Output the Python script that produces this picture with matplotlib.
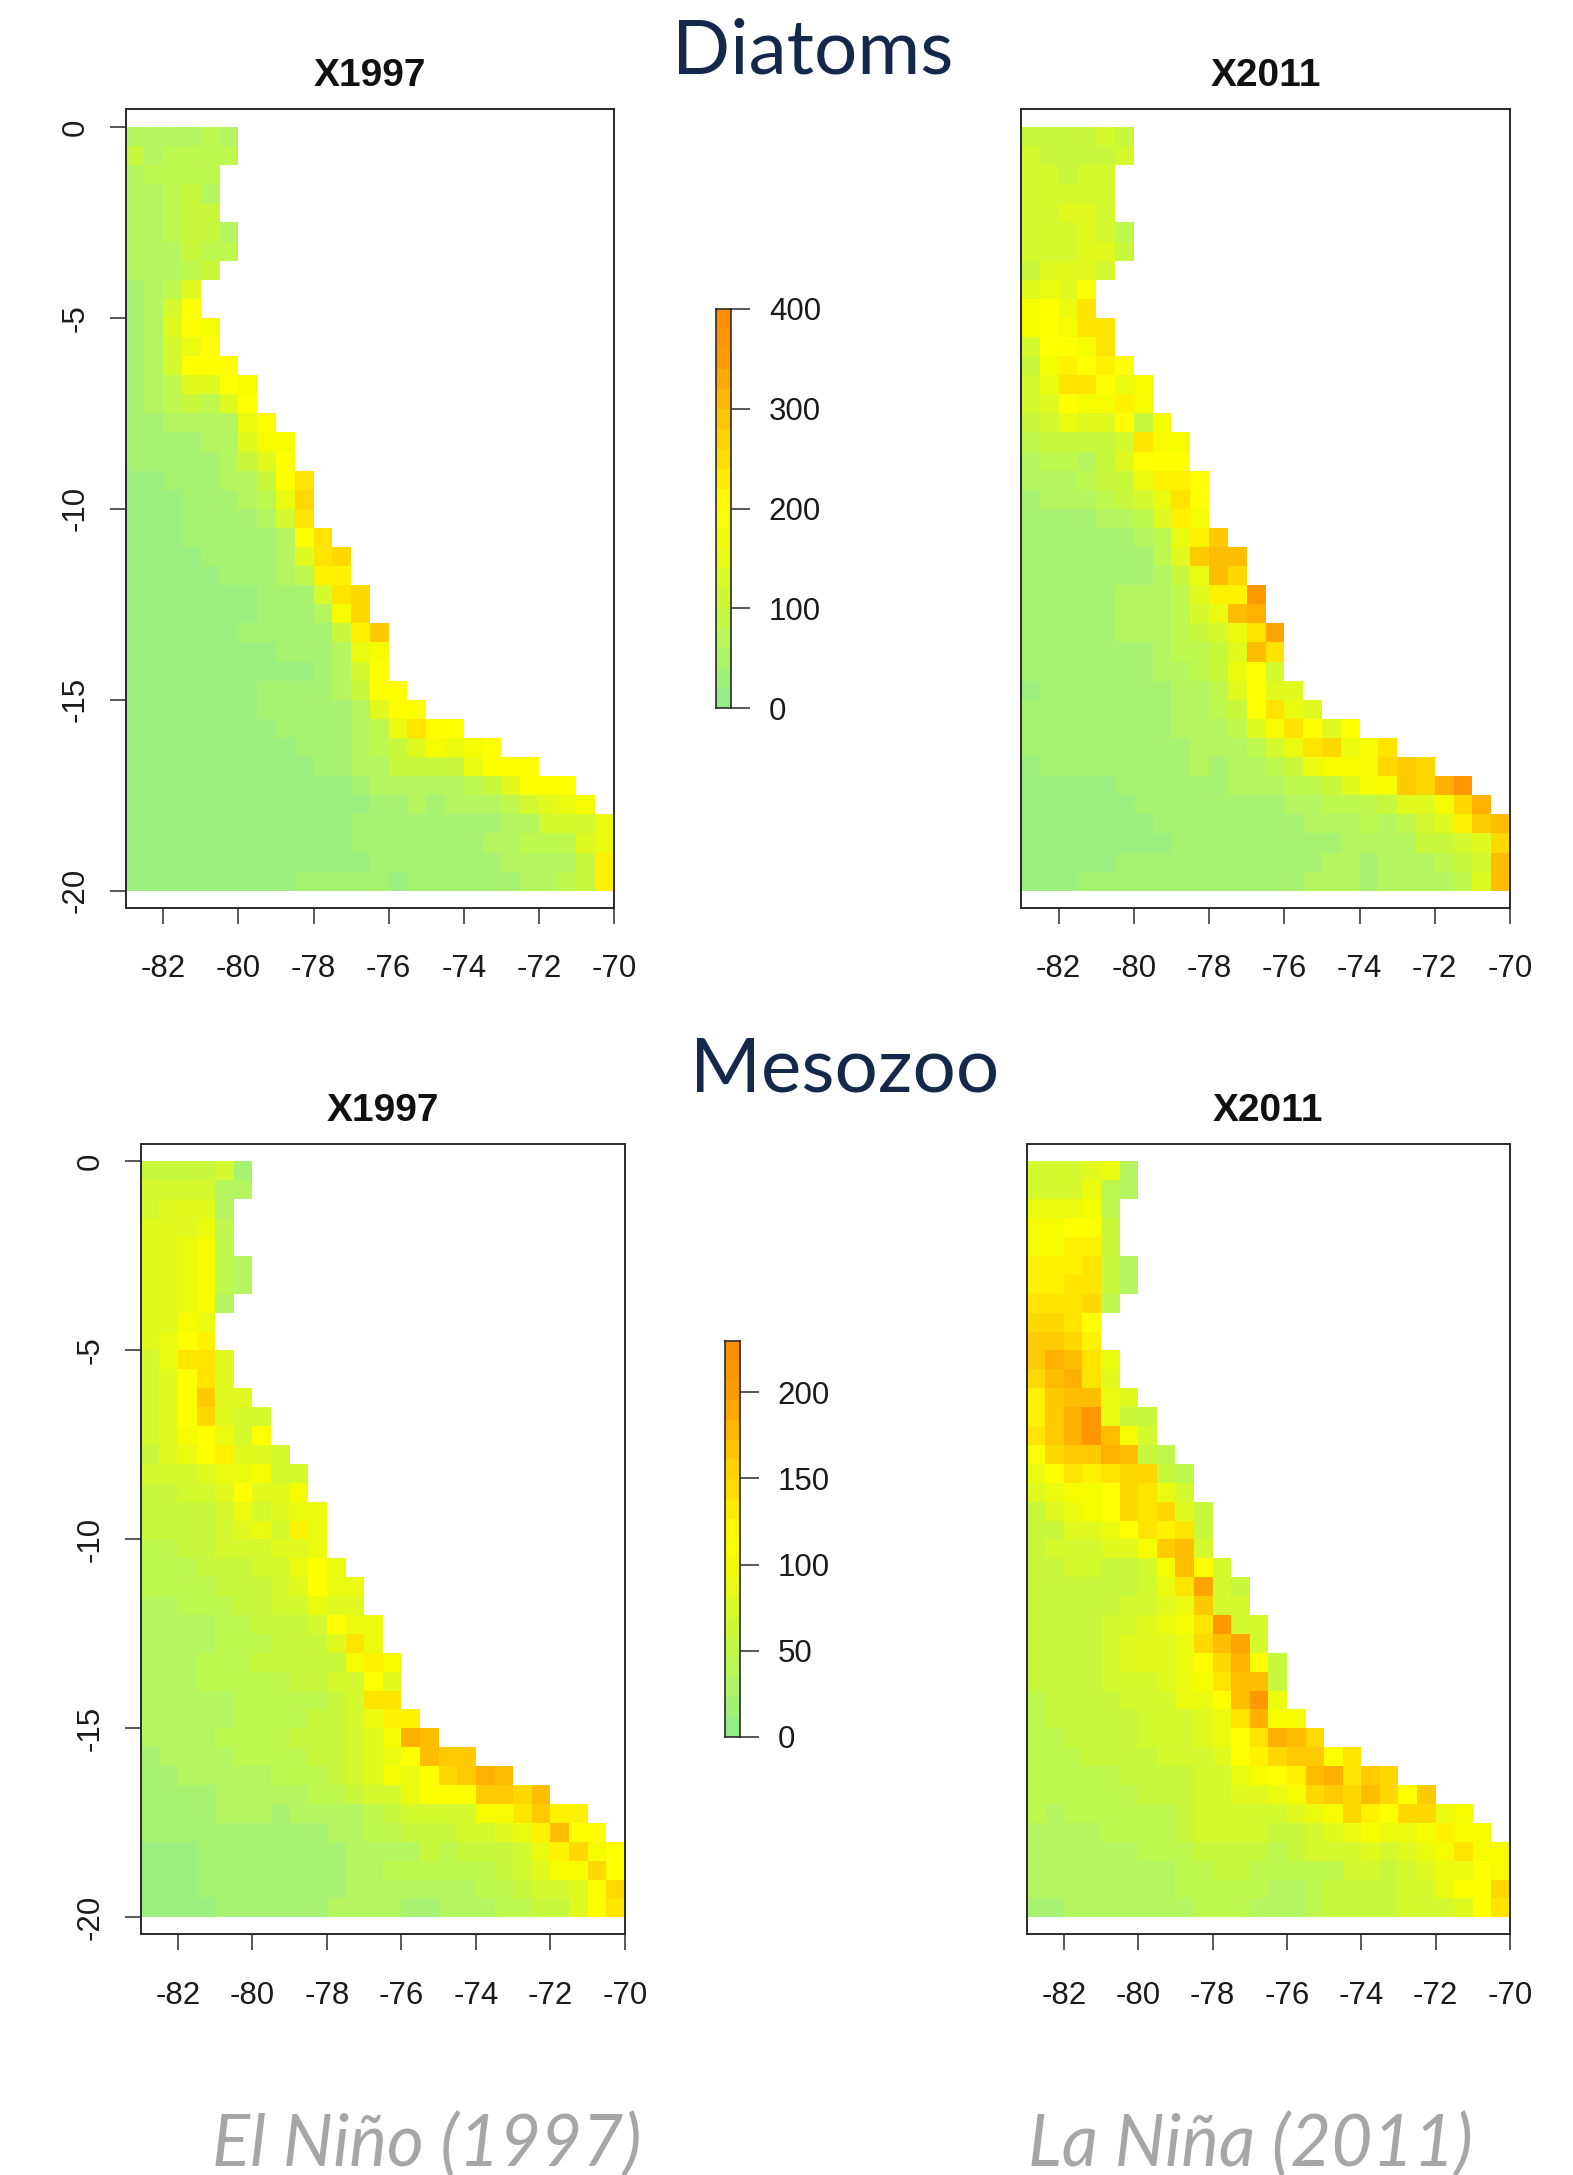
import numpy as np
import matplotlib
matplotlib.use("Agg")
import matplotlib.pyplot as plt
from matplotlib.colors import LinearSegmentedColormap

plt.rcParams['font.family'] = ['Liberation Sans', 'DejaVu Sans']

# cell values read as steps of the colour bar, north to south, west to east
# one step = 20 units for diatoms, 11.5 units for mesozoo
diatoms_1997 = [
 [3,3,3,3,4,3],[5,3,4,4,4,4],[3,4,4,4,4],[3,3,4,5,3],[3,3,4,5,5],[3,3,4,5,5,3],[3,3,3,5,4,4],[3,3,3,4,5],
 [2,3,4,7],[2,3,6,10],[2,3,7,10,9],[2,3,6,8,10],[2,3,6,10,10,10],[2,3,4,7,7,10,9],[2,3,4,5,4,7,10],
 [2,2,3,3,3,3,8,10],[2,2,2,2,3,3,7,9,9],[2,2,2,2,2,3,5,7,10],[1,1,2,2,2,3,3,5,10,12],[1,1,1,2,2,2,3,4,8,13],
 [1,1,1,2,2,2,2,3,6,12],[1,1,1,2,2,2,2,2,3,10,12],[1,1,1,1,2,2,2,2,3,7,12,13],[1,1,1,1,1,2,2,2,3,4,11,11],
 [1,1,1,1,1,1,1,2,2,2,6,12,13],[1,1,1,1,1,1,1,2,2,2,3,9,13],[1,1,1,1,1,1,2,2,2,2,2,5,11,14],
 [1,1,1,1,1,1,1,1,2,2,2,3,8,9],[1,1,1,1,1,1,1,1,1,1,2,3,6,10],[1,1,1,1,1,1,1,2,2,2,2,3,5,10,10],
 [1,1,1,1,1,1,1,2,2,2,2,2,3,7,10,10],[1,1,1,1,1,1,1,1,2,2,2,2,3,4,8,12,10,10],
 [1,1,1,1,1,1,1,1,1,2,2,2,3,4,5,7,9,8,9,10],[1,1,1,1,1,1,1,1,1,1,2,2,3,3,5,5,5,5,8,10,10,10],
 [1,1,1,1,1,1,1,1,1,1,1,1,2,3,3,3,3,3,4,5,7,10,10,10],[1,1,1,1,1,1,1,1,1,1,1,1,1,2,2,3,2,3,3,3,4,6,7,8,9],
 [1,1,1,1,1,1,1,1,1,1,1,1,2,2,2,2,2,2,2,2,3,3,6,6,6,8],[1,1,1,1,1,1,1,1,1,1,1,1,2,2,2,2,2,2,2,3,3,4,4,4,7,8],
 [1,1,1,1,1,1,1,1,1,1,1,1,1,2,2,2,2,2,2,2,3,3,3,3,5,11],[1,1,1,1,1,1,1,1,1,2,2,2,2,2,1,2,2,2,2,2,2,3,3,4,5,11],
]
diatoms_2011 = [
 [5,5,5,5,6,5],[6,5,5,5,5,6],[6,6,5,6,6],[6,6,6,6,6],[6,6,7,7,6],[6,6,6,7,6,4],[6,6,6,7,7,5],[5,7,7,7,6],
 [7,8,7,10],[9,10,8,12],[9,10,9,12,12],[6,10,10,9,12],[5,9,11,10,11,10],[6,8,12,12,10,8,9],[6,7,10,9,9,11,9],
 [5,6,8,7,7,10,5,9],[4,5,5,5,5,6,12,9,9],[3,4,4,3,5,7,10,10,10],[3,3,3,4,5,5,8,11,11,10],[2,3,3,3,4,5,6,8,12,10],
 [2,2,2,2,3,3,4,7,11,9],[2,2,2,2,2,2,3,4,8,11,14],[2,2,2,2,2,2,2,4,7,14,15,15],[2,2,2,2,2,2,2,3,5,8,15,13],
 [2,2,2,2,2,3,3,3,4,7,11,11,18],[2,2,2,2,2,3,3,3,4,6,8,15,16],[2,2,2,2,2,3,3,3,4,5,6,8,12,17],
 [2,2,2,2,2,2,2,3,4,4,5,7,15,12],[2,2,2,2,2,2,2,3,3,4,5,8,10,6],[1,2,2,2,2,2,2,2,3,3,4,7,10,7,7],
 [2,2,2,2,2,2,2,2,3,3,4,5,10,12,8,7],[2,2,2,2,2,2,2,2,3,3,3,4,7,9,12,10,7,10],
 [2,2,2,2,2,2,2,2,2,3,3,3,4,6,8,12,13,8,9,12],[1,2,2,2,2,2,2,2,2,3,2,3,3,4,5,8,9,9,9,13,14,13],
 [1,1,1,1,1,2,2,2,2,2,2,3,3,3,4,4,5,7,9,9,14,13,16,18],[1,1,1,1,1,1,2,2,2,2,2,2,2,2,3,3,4,4,4,5,7,7,9,13,16],
 [1,1,1,1,1,1,1,2,2,2,2,2,2,2,2,3,3,3,4,3,4,6,7,11,14,15],[1,1,1,1,1,1,1,1,2,2,2,2,2,2,2,2,2,3,3,3,3,5,5,6,7,13],
 [1,1,1,1,1,2,2,2,2,2,2,2,2,2,2,2,3,3,2,3,3,3,4,5,6,15],[1,1,1,2,2,2,2,2,2,2,2,2,2,2,2,3,3,3,2,3,3,3,3,4,7,15],
]
mesozoo_1997 = [
 [5,5,5,5,6,2],[6,6,6,6,3,3],[6,7,7,7,3],[7,7,7,8,4],[7,7,8,9,4],[7,7,8,9,4,3],[7,7,8,9,4,3],[7,7,8,9,3],
 [7,7,9,8],[7,8,10,11],[6,8,12,12,7],[6,7,10,12,7],[6,7,10,14,7,7],[6,7,10,13,7,6,6],[6,7,9,10,8,6,10],
 [5,7,8,10,11,7,7,6],[6,6,6,7,8,8,9,6,6],[5,5,6,6,7,10,7,7,9],[5,5,5,5,6,8,6,7,8,8],[5,5,5,5,6,7,8,6,11,8],
 [4,4,5,5,6,6,6,7,7,8],[4,4,4,5,5,5,6,6,8,10,8],[4,4,4,4,5,5,5,6,7,10,8,8],[3,3,4,4,4,5,5,6,6,8,7,7],
 [3,3,3,3,4,4,5,5,5,6,10,8,8],[3,3,3,3,4,4,4,5,5,5,7,12,8],[3,3,3,4,4,4,5,5,5,5,5,9,11,9],
 [3,3,3,4,4,4,4,4,5,5,6,6,10,7],[3,3,3,3,3,4,4,4,4,4,5,6,12,12],[3,3,3,3,3,4,4,4,4,5,5,6,8,11,11],
 [3,3,3,3,4,4,4,4,5,5,5,6,7,9,16,15],[2,3,3,3,3,4,4,4,4,5,5,6,7,8,10,15,14,14],
 [2,2,3,3,3,3,3,4,4,4,5,6,7,9,8,10,13,14,16,15],[2,2,2,2,3,3,3,3,3,4,4,5,6,6,8,10,10,10,14,14,13,15],
 [2,2,2,2,3,3,3,2,3,3,3,3,4,5,6,6,6,6,9,9,12,14,11,11],[2,2,2,2,2,2,2,2,2,2,3,3,4,4,5,5,5,6,6,7,8,11,15,10,10],
 [1,1,1,2,2,2,2,2,2,2,2,3,3,3,3,5,4,5,5,5,6,8,11,13,9,10],[1,1,1,2,2,2,2,2,2,2,2,3,3,4,4,4,4,4,4,5,6,7,9,9,13,10],
 [1,1,1,2,2,2,2,2,2,2,2,3,3,3,3,3,3,3,4,4,5,6,6,7,10,13],[1,1,1,1,2,2,2,2,2,2,3,3,3,3,2,2,3,3,3,4,4,5,5,7,10,12],
]
mesozoo_2011 = [
 [6,6,6,7,8,3],[6,6,6,8,4,3],[8,8,8,9,4],[9,9,10,10,5],[9,9,11,11,5],[11,11,11,12,5,3],[11,11,12,12,5,3],[12,12,12,13,4],
 [13,13,12,10],[14,14,13,11],[14,16,15,12,8],[13,15,16,12,7],[11,14,15,15,8,7],[11,14,16,18,8,5,5],[12,14,16,18,15,9,6],
 [10,13,14,14,16,15,5,4],[8,10,12,11,12,13,13,5,4],[7,8,9,9,10,13,12,8,6],[5,7,8,9,10,13,12,13,7,5],[5,5,7,7,8,10,12,11,12,5],
 [5,6,6,6,7,7,9,14,15,6],[5,5,6,6,5,5,6,9,15,10,6],[5,5,5,5,5,5,6,8,12,17,6,5],[5,5,5,5,5,6,6,7,8,14,6,6],
 [5,5,5,5,6,6,7,8,9,12,18,6,6],[5,5,5,5,6,7,7,7,8,13,15,17,6],[5,5,5,5,6,7,7,7,8,10,13,16,10,5],
 [5,5,5,5,6,6,6,7,8,9,12,15,15,5],[4,5,5,5,5,6,6,6,8,8,10,15,18,8],[4,5,5,5,5,5,6,6,6,7,8,12,16,9,9],
 [4,4,5,5,5,5,6,6,6,7,8,10,12,16,15,13],[4,4,4,5,5,5,5,6,6,6,7,10,11,13,14,14,10,12],
 [4,4,4,4,4,5,5,5,5,6,6,8,9,10,11,15,16,12,14,13],[4,4,4,4,4,4,5,5,5,6,6,7,7,8,9,13,14,13,15,13,10,14],
 [4,3,4,4,4,4,4,4,5,6,6,6,6,6,7,8,9,13,11,10,13,13,8,9],[3,3,3,3,4,4,4,4,5,6,6,6,6,5,5,6,7,8,9,8,8,9,11,9,9],
 [3,3,3,3,3,3,4,4,4,5,5,5,5,4,5,6,6,6,7,6,7,8,9,12,9,9],[3,3,3,3,3,3,3,3,4,4,5,5,4,4,4,4,4,6,6,5,6,7,8,8,10,9],
 [3,3,3,3,3,3,3,3,4,4,4,4,4,3,3,4,5,5,5,5,6,6,8,10,10,13],[2,2,3,3,3,3,3,3,3,4,4,4,3,3,3,4,5,5,5,5,6,6,6,7,10,12],
]
diatom_step = 20.0
meso_step = 11.5
diatom_max = 400
meso_max = 230
diatom_ticks = [0, 100, 200, 300, 400]
meso_ticks = [0, 50, 100, 150, 200]
lon_ticks = [-82, -80, -78, -76, -74, -72, -70]
lat_ticks = [0, -5, -10, -15, -20]

W, H = 1573, 2175
fig = plt.figure(figsize=(W/100, H/100), dpi=100)

cmap = LinearSegmentedColormap.from_list('bar', [
    (0.0, '#8CEC8C'), (0.05, '#9DF07E'), (0.10, '#A8F270'), (0.15, '#B4F560'), (0.25, '#C8F83C'),
    (0.35, '#E0FA20'), (0.45, '#F5FC00'), (0.50, '#FFFF00'), (0.60, '#FFE400'), (0.70, '#FFCC00'),
    (0.80, '#FFB000'), (0.90, '#FF9800'), (1.0, '#FF8C00')])

DARK = '#2a2a2a'

def px_axes(left, top, right, bottom):
    return fig.add_axes([left/W, 1-bottom/H, (right-left)/W, (bottom-top)/H])

def panel(box, rows, step, vmax, title, ylabels=True):
    ax = px_axes(*box)
    grid = np.full((40, 26), np.nan)
    for i, r in enumerate(rows):
        grid[i, :len(r)] = np.array(r)*step
    lon = np.arange(-83, -69.9, 0.5)
    lat = np.arange(0, -20.1, -0.5)
    ax.pcolormesh(lon, lat, grid, cmap=cmap, vmin=0, vmax=vmax, linewidth=0, antialiased=False)
    ax.set_xlim(-83, -70)
    ax.set_ylim(-20.44, 0.47)
    ax.set_xticks(lon_ticks)
    ax.set_xticklabels([str(v) for v in lon_ticks], fontsize=22.5, color='#1a1a1a')
    ax.tick_params(axis='x', length=11.5, width=1.1, color=DARK, pad=22)
    if ylabels:
        ax.set_yticks(lat_ticks)
        ax.set_yticklabels([str(v) for v in lat_ticks], fontsize=22.5, color='#1a1a1a', rotation=90, va='center')
        ax.tick_params(axis='y', length=11.5, width=1.1, color=DARK, pad=14)
    else:
        ax.set_yticks([])
    for s in ax.spines.values():
        s.set_linewidth(1.4)
        s.set_color(DARK)
    ax.set_title(title, fontsize=28, fontweight='bold', color='#111111', pad=16.5)
    return ax

def bar(box, vmax, ticks):
    ax = px_axes(*box)
    edges = np.linspace(0, vmax, 21)
    ax.pcolormesh([0, 1], edges, ((edges[:-1]+edges[1:])/2).reshape(-1, 1), cmap=cmap, vmin=0, vmax=vmax)
    ax.set_xticks([])
    ax.set_ylim(0, vmax)
    ax.yaxis.tick_right()
    ax.set_yticks(ticks)
    ax.set_yticklabels([str(v) for v in ticks], fontsize=22.5, color='#1a1a1a')
    ax.tick_params(axis='y', length=14, width=1.1, color=DARK, pad=13)
    for s in ax.spines.values():
        s.set_linewidth(1.2)
        s.set_color(DARK)

panel((125.7, 109, 614, 907.5), diatoms_1997, diatom_step, diatom_max, 'X1997')
panel((1021, 109, 1510, 907.5), diatoms_2011, diatom_step, diatom_max, 'X2011', ylabels=False)
panel((140.7, 1143.7, 625, 1934), mesozoo_1997, meso_step, meso_max, 'X1997')
panel((1026.7, 1143.7, 1510, 1934), mesozoo_2011, meso_step, meso_max, 'X2011', ylabels=False)
bar((716, 309, 731.3, 708), diatom_max, diatom_ticks)
bar((724.7, 1340.7, 740, 1736.7), meso_max, meso_ticks)

NAVY = '#14284B'
fig.text(813/W, 1-52/H, 'Diatoms', fontsize=55, color=NAVY, family=['Lato', 'DejaVu Sans'], ha='center', va='center')
fig.text(845/W, 1-1070/H, 'Mesozoo', fontsize=55, color=NAVY, family=['Lato', 'DejaVu Sans'], ha='center', va='center')
GREY = '#A6A6A6'
fig.text(427/W, 1-2145/H, 'El Niño (1997)', fontsize=51, color=GREY, style='italic', family=['Lato', 'DejaVu Sans'], ha='center', va='center')
fig.text(1250/W, 1-2145/H, 'La Niña (2011)', fontsize=51, color=GREY, style='italic', family=['Lato', 'DejaVu Sans'], ha='center', va='center')

fig.savefig('out.png', dpi=100)
